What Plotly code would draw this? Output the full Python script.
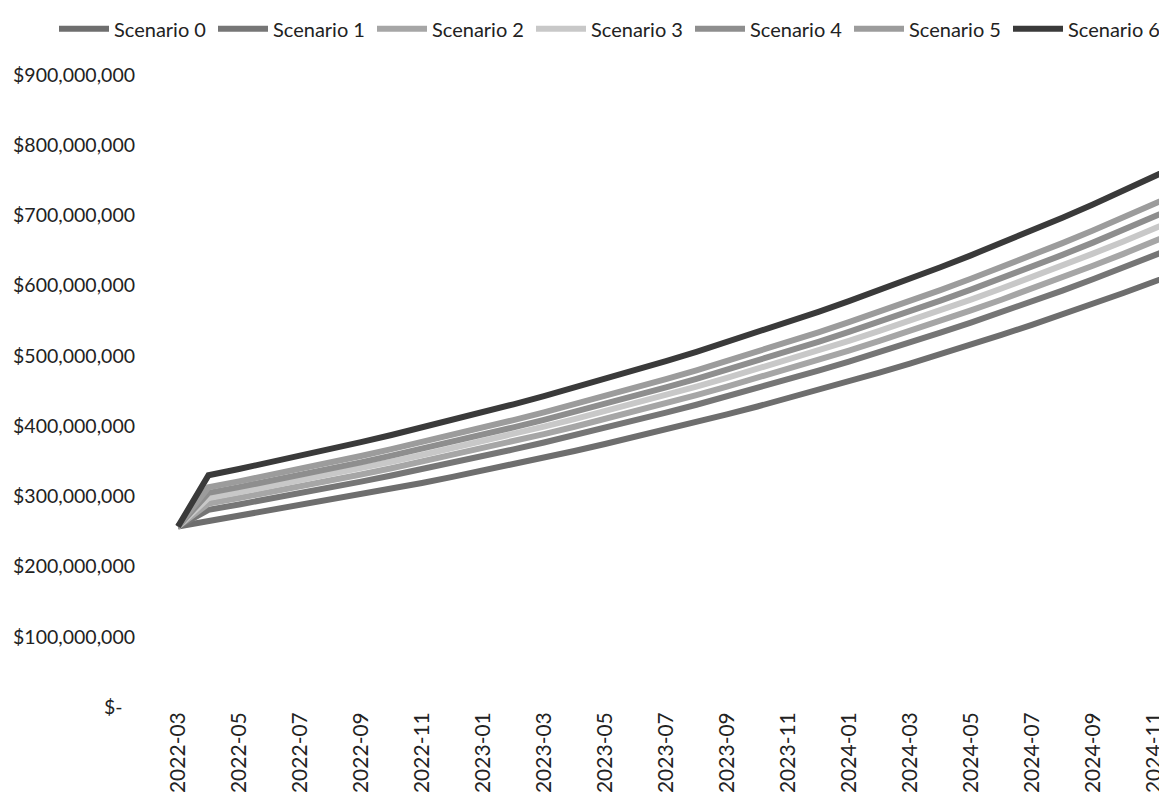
import plotly.graph_objects as go

months = ["2022-03","2022-04","2022-05","2022-06","2022-07","2022-08","2022-09","2022-10","2022-11","2022-12",
          "2023-01","2023-02","2023-03","2023-04","2023-05","2023-06","2023-07","2023-08","2023-09","2023-10",
          "2023-11","2023-12","2024-01","2024-02","2024-03","2024-04","2024-05","2024-06","2024-07","2024-08",
          "2024-09","2024-10","2024-11","2024-12"]

# values in millions of dollars
scenario_0 = [257,264.7,271.8,279.2,286.7,294.5,302.4,310.6,319.0,327.7,336.5,345.7,355.0,364.6,374.5,384.6,395.0,
              405.7,416.6,427.9,439.5,451.4,463.6,476.1,489.1,502.3,515.8,529.8,544.2,558.8,574.0,589.5,605.5,621.9]
scenario_1 = [257,280.8,288.4,296.2,304.2,312.5,320.9,329.6,338.5,347.7,357.1,366.8,376.7,386.9,397.3,408.1,419.1,
              430.4,442.1,454.1,466.3,478.9,492.0,505.2,518.9,533.0,547.4,562.2,577.4,593.0,609.1,625.5,642.5,659.9]
scenario_2 = [257,289.7,297.6,305.6,313.9,322.4,331.1,340.0,349.3,358.8,368.4,378.4,388.6,399.1,409.9,421.0,432.4,
              444.1,456.1,468.5,481.1,494.1,507.6,521.3,535.4,549.9,564.7,580.0,595.7,611.8,628.4,645.3,662.9,680.8]
scenario_3 = [257,297.7,305.7,314.0,322.5,331.2,340.1,349.3,358.8,368.6,378.5,388.8,399.2,410.0,421.1,432.5,444.2,
              456.2,468.6,481.3,494.3,507.6,521.4,535.5,550.0,564.9,580.2,595.9,612.0,628.5,645.6,663.0,681.0,699.4]
scenario_4 = [257,304.9,313.1,321.6,330.3,339.3,348.4,357.9,367.6,377.5,387.7,398.2,409.0,420.0,431.4,443.1,455.1,
              467.4,480.0,493.0,506.4,520.0,534.2,548.6,563.5,578.7,594.3,610.4,626.9,643.8,661.3,679.1,697.6,716.5]
scenario_5 = [257,312.8,321.3,330.0,338.9,348.1,357.5,367.2,377.1,387.4,397.8,408.6,419.6,431.0,442.6,454.6,466.9,
              479.5,492.5,505.9,519.5,533.5,548.0,562.8,578.1,593.7,609.8,626.2,643.2,660.6,678.5,696.8,715.7,735.1]
scenario_6 = [257,330.0,338.9,348.1,357.5,367.2,377.1,387.3,397.8,408.6,419.6,431.0,442.6,454.6,466.9,479.5,492.5,
              505.8,519.5,533.6,548.0,562.8,578.1,593.7,609.8,626.3,643.2,660.6,678.5,696.8,715.7,735.0,755.0,775.4]

series_names = ["Scenario 0","Scenario 1","Scenario 2","Scenario 3","Scenario 4","Scenario 5","Scenario 6"]
series_values = [scenario_0, scenario_1, scenario_2, scenario_3, scenario_4, scenario_5, scenario_6]
series_colors = ["#6e6e6e","#767676","#a6a6a6","#c8c8c8","#8e8e8e","#9c9c9c","#3a3a3a"]

x_tick_labels = months[0:33:2]
y_tick_vals = [0,100,200,300,400,500,600,700,800,900]
y_tick_text = ["$-\u00a0\u00a0\u2009","$100,000,000","$200,000,000","$300,000,000","$400,000,000","$500,000,000",
               "$600,000,000","$700,000,000","$800,000,000","$900,000,000"]

FONT = "Lato, Carlito, Calibri, sans-serif"

fig = go.Figure()
for name, vals, col in zip(series_names, series_values, series_colors):
    fig.add_trace(go.Scatter(x=months, y=vals, name=name, mode="lines",
                             line=dict(color=col, width=6)))

fig.update_layout(
    width=1159, height=790,
    margin=dict(l=152, r=0, t=67, b=91),
    paper_bgcolor="white", plot_bgcolor="white",
    font=dict(family=FONT, size=20, color="#222222"),
    showlegend=True,
    legend=dict(orientation="h", x=-0.094, xanchor="left", y=1.104, yanchor="top",
                font=dict(family=FONT, size=20, color="#222222"),
                entrywidth=94, entrywidthmode="pixels", itemwidth=50, tracegroupgap=0),
    xaxis=dict(type="category", range=[-0.59, 32.43], tickmode="array",
               tickvals=x_tick_labels, ticktext=x_tick_labels, tickangle=-90,
               showgrid=False, zeroline=False, showline=False, ticks="",
               tickfont=dict(family=FONT, size=21, color="#222222")),
    yaxis=dict(range=[0, 900], tickmode="array", tickvals=y_tick_vals, ticktext=y_tick_text,
               showgrid=False, zeroline=False, showline=False, ticks="",
               ticklabelstandoff=24,
               tickfont=dict(family=FONT, size=19.5, color="#222222")),
)

fig.write_html("out.html")
